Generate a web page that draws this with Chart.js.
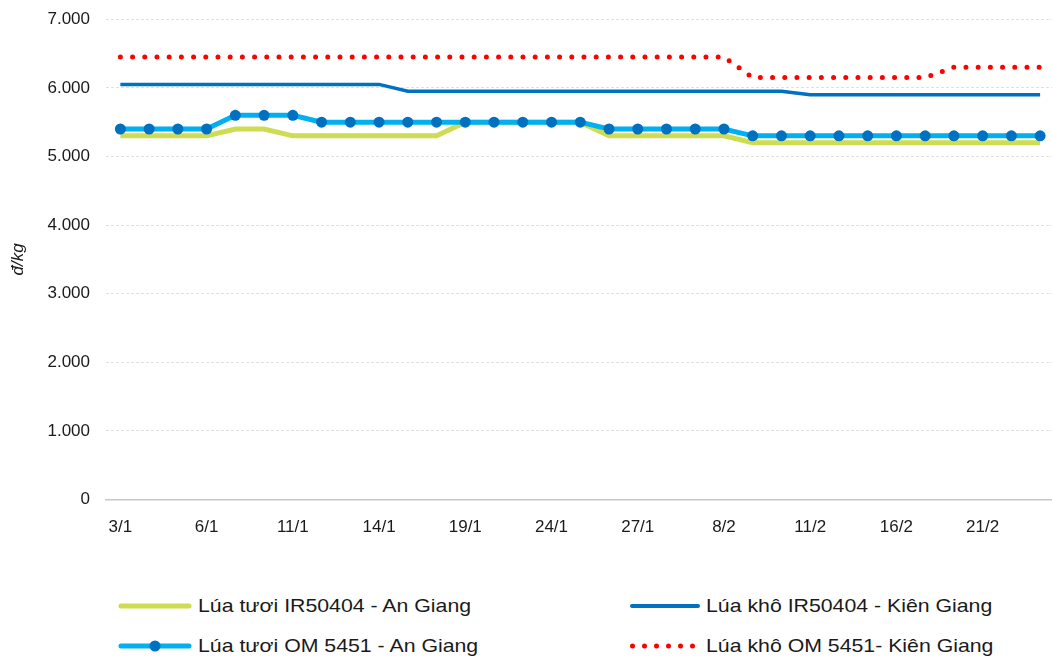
<!DOCTYPE html>
<html>
<head>
<meta charset="utf-8">
<script src="https://cdn.jsdelivr.net/npm/chart.js@4.4.1/dist/chart.umd.min.js"></script>
<style>
  html, body { margin: 0; padding: 0; background: #fff; overflow: hidden; }
  body { width: 1052px; height: 657px; position: relative; font-family: "Liberation Sans", Arial, sans-serif; }
  #wrap { position: absolute; left: 0; top: -7px; width: 1060px; height: 565px; }
  .leg { position: absolute; height: 24px; display: flex; align-items: center; }
  .leg svg { flex: none; }
  .leg span { display: inline-block; font-size: 19px; color: #1a1a1a; white-space: nowrap;
              transform: scaleX(1.12); transform-origin: left center; margin-left: 6px; }
</style>
</head>
<body>
<div id="wrap"><canvas id="riceChart"></canvas></div>

<div class="leg" style="left:118px; top:594px;">
  <svg width="74" height="10"><line x1="3" y1="5" x2="71" y2="5" stroke="#CDDC50" stroke-width="5" stroke-linecap="round"/></svg>
  <span>Lúa tươi IR50404 - An Giang</span>
</div>
<div class="leg" style="left:630px; top:594px;">
  <svg width="70" height="10"><line x1="2" y1="5" x2="68" y2="5" stroke="#0070C0" stroke-width="4" stroke-linecap="round"/></svg>
  <span>Lúa khô IR50404 - Kiên Giang</span>
</div>
<div class="leg" style="left:118px; top:634px;">
  <svg width="74" height="14"><line x1="3" y1="7" x2="71" y2="7" stroke="#00B0F0" stroke-width="5" stroke-linecap="round"/><circle cx="37" cy="7" r="5.5" fill="#0070C0"/></svg>
  <span>Lúa tươi OM 5451 - An Giang</span>
</div>
<div class="leg" style="left:630px; top:634px;">
  <svg width="70" height="10"><line x1="2.5" y1="5" x2="64" y2="5" stroke="#FF0000" stroke-width="5" stroke-linecap="round" stroke-dasharray="0 12"/></svg>
  <span>Lúa khô OM 5451- Kiên Giang</span>
</div>

<script>
// Ngày (chỉ hiện nhãn mỗi 3 điểm)
var dates = ['3/1','4/1','5/1','6/1','7/1','10/1','11/1','12/1','13/1','14/1','17/1',
             '18/1','19/1','20/1','21/1','24/1','25/1','26/1','27/1','28/1','7/2',
             '8/2','9/2','10/2','11/2','14/2','15/2','16/2','17/2','18/2','21/2',
             '22/2','23/2'];

// Giá lúa, đ/kg
var luaTuoiIR = [5300,5300,5300,5300,5400,5400,5300,5300,5300,5300,5300,
                 5300,5500,5500,5500,5500,5500,5300,5300,5300,5300,5300,
                 5200,5200,5200,5200,5200,5200,5200,5200,5200,5200,5200];
var luaKhoIR = [6050,6050,6050,6050,6050,6050,6050,6050,6050,6050,5950,
                5950,5950,5950,5950,5950,5950,5950,5950,5950,5950,5950,
                5950,5950,5900,5900,5900,5900,5900,5900,5900,5900,5900];
var luaTuoiOM = [5400,5400,5400,5400,5600,5600,5600,5500,5500,5500,5500,
                 5500,5500,5500,5500,5500,5500,5400,5400,5400,5400,5400,
                 5300,5300,5300,5300,5300,5300,5300,5300,5300,5300,5300];
var luaKhoOM = [6450,6450,6450,6450,6450,6450,6450,6450,6450,6450,6450,
                6450,6450,6450,6450,6450,6450,6450,6450,6450,6450,6450,
                6150,6150,6150,6150,6150,6150,6150,6300,6300,6300,6300];

var yTicks = [0, 1000, 2000, 3000, 4000, 5000, 6000, 7000];

function formatNumber(v) {
  return String(v).replace(/\B(?=(\d{3})+(?!\d))/g, '.');
}

var ctx = document.getElementById('riceChart').getContext('2d');
var riceChart = new Chart(ctx, {
  type: 'line',
  data: {
    labels: dates,
    datasets: [{
      label: 'Lúa tươi IR50404 - An Giang',
      data: luaTuoiIR,
      borderColor: '#CDDC50',
      borderWidth: 5,
      pointRadius: 0,
      tension: 0,
      order: 4
    }, {
      label: 'Lúa khô IR50404 - Kiên Giang',
      data: luaKhoIR,
      borderColor: '#0070C0',
      borderWidth: 3.5,
      pointRadius: 0,
      tension: 0,
      order: 3
    }, {
      label: 'Lúa tươi OM 5451 - An Giang',
      data: luaTuoiOM,
      borderColor: '#00B0F0',
      borderWidth: 5,
      pointRadius: 5.5,
      pointBackgroundColor: '#0070C0',
      pointBorderColor: '#0070C0',
      pointBorderWidth: 0,
      tension: 0,
      order: 2
    }, {
      label: 'Lúa khô OM 5451- Kiên Giang',
      data: luaKhoOM,
      borderColor: '#FF0000',
      borderWidth: 5,
      borderDash: [0, 12.2],
      borderCapStyle: 'round',
      pointRadius: 0,
      tension: 0,
      order: 1
    }]
  },
  options: {
    responsive: true,
    maintainAspectRatio: false,
    animation: false,
    layout: { padding: { top: 1, right: 1, bottom: 10, left: 0 } },
    plugins: {
      legend: { display: false },
      tooltip: { enabled: false }
    },
    scales: {
      x: {
        offset: true,
        grid: { display: false },
        border: { display: true, color: '#c8c8c8', width: 1.5 },
        ticks: {
          autoSkip: false,
          maxRotation: 0,
          padding: 10,
          color: '#1a1a1a',
          font: { family: 'Liberation Sans', size: 17 },
          callback: function(val, index) {
            return index % 3 === 0 ? this.getLabelForValue(val) : '';
          }
        }
      },
      y: {
        min: 0,
        max: 7000,
        afterBuildTicks: function(scale) {
          scale.ticks = yTicks.map(function(v) { return { value: v }; });
        },
        afterFit: function(scale) {
          scale.width = 106;
        },
        grid: {
          color: '#e0e0e0',
          drawTicks: false
        },
        border: { display: false, dash: [3, 2] },
        ticks: {
          padding: 16,
          color: '#1a1a1a',
          font: { family: 'Liberation Sans', size: 17 },
          callback: function(v) { return formatNumber(v); }
        },
        title: {
          display: true,
          text: 'đ/kg',
          color: '#1a1a1a',
          padding: { top: 8, bottom: 0 },
          font: { family: 'Liberation Sans', size: 17, style: 'italic' }
        }
      }
    }
  }
});
</script>
</body>
</html>
